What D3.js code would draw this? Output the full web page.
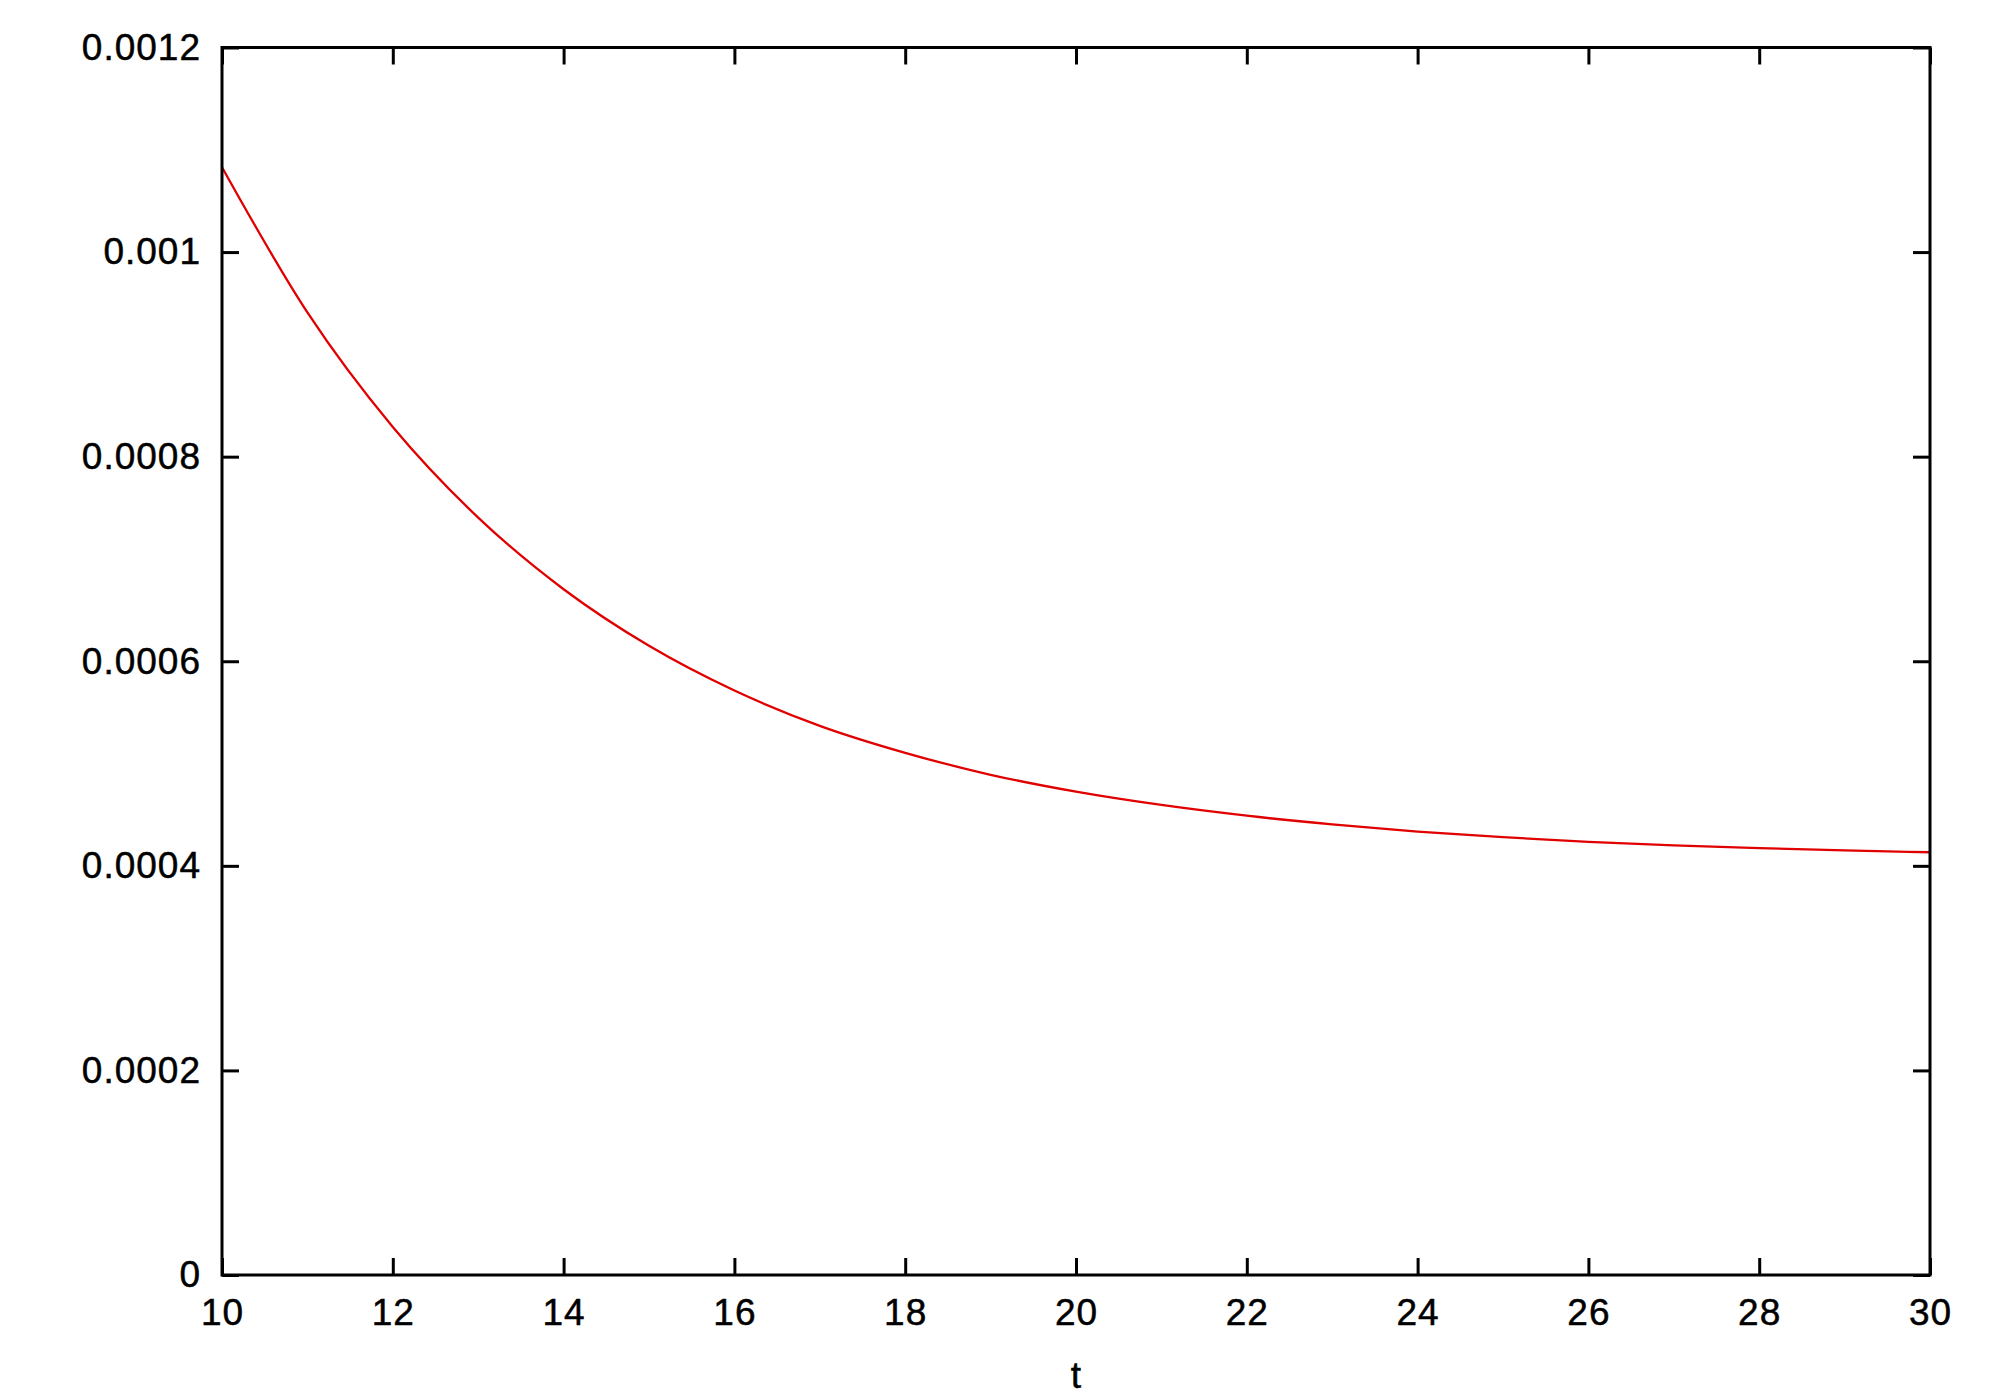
<!DOCTYPE html>
<html>
<head>
<meta charset="utf-8">
<script src="https://cdn.jsdelivr.net/npm/d3@7"></script>
<style>
  body { margin: 0; background: #fff; }
  text { font-family: "Liberation Sans", Arial, Helvetica, sans-serif; }
</style>
</head>
<body>
<div id="chart"></div>
<script>
// values
var tValues = [10, 11, 12, 13, 14, 15, 16, 17, 18, 19, 20, 21, 22, 23, 24, 25, 26, 27, 28, 29, 30];
var yValues = [0.001083, 0.000941, 0.000829, 0.0007404, 0.0006704, 0.0006151, 0.0005714, 0.0005369,
               0.0005105, 0.000489, 0.0004725, 0.0004595, 0.000449, 0.0004405, 0.0004335, 0.000428,
               0.0004235, 0.00042, 0.0004173, 0.0004151, 0.0004133];
var xTicks = [10, 12, 14, 16, 18, 20, 22, 24, 26, 28, 30];
var yTicks = [0, 0.0002, 0.0004, 0.0006, 0.0008, 0.001, 0.0012];
var yTickLabels = ["0", "0.0002", "0.0004", "0.0006", "0.0008", "0.001", "0.0012"];
var xLabel = "t";

var margin = {top: 47.5, right: 70, bottom: 125, left: 222},
    width = 2000 - margin.left - margin.right,
    height = 1400 - margin.top - margin.bottom;

var x = d3.scaleLinear().domain([10, 30]).range([0, width]);
var y = d3.scaleLinear().domain([0, 0.0012]).range([height, 0]);

var svg = d3.select("#chart").append("svg")
    .attr("width", 2000)
    .attr("height", 1400)
  .append("g")
    .attr("transform", "translate(" + margin.left + "," + margin.top + ")");

var data = tValues.map(function(t, i) { return {t: t, v: yValues[i]}; });

var tickLen = 17;

function styleLabels(g) {
  g.select(".domain").remove();
  g.selectAll("text")
    .attr("font-size", 37)
    .attr("letter-spacing", 1)
    .attr("fill", "#000")
    .attr("stroke", "#000")
    .attr("stroke-width", 0.5);
}

// bottom axis with labels
svg.append("g")
    .attr("transform", "translate(0," + height + ")")
    .call(d3.axisBottom(x).tickValues(xTicks).tickFormat(d3.format("d"))
      .tickSizeInner(-tickLen).tickSizeOuter(0).tickPadding(24))
    .call(styleLabels);

// top mirror ticks
svg.append("g")
    .call(d3.axisTop(x).tickValues(xTicks).tickFormat("")
      .tickSizeInner(-tickLen).tickSizeOuter(0))
    .call(function(g) { g.select(".domain").remove(); });

// left axis with labels
svg.append("g")
    .call(d3.axisLeft(y).tickValues(yTicks)
      .tickFormat(function(d, i) { return yTickLabels[i]; })
      .tickSizeInner(-tickLen).tickSizeOuter(0).tickPadding(21))
    .call(styleLabels);

// right mirror ticks
svg.append("g")
    .attr("transform", "translate(" + width + ",0)")
    .call(d3.axisRight(y).tickValues(yTicks).tickFormat("")
      .tickSizeInner(-tickLen).tickSizeOuter(0))
    .call(function(g) { g.select(".domain").remove(); });

svg.selectAll(".tick line").attr("stroke", "#000").attr("stroke-width", 3);

// the curve
var line = d3.line()
    .x(function(d) { return x(d.t); })
    .y(function(d) { return y(d.v); })
    .curve(d3.curveMonotoneX);

svg.append("path")
    .datum(data)
    .attr("fill", "none")
    .attr("stroke", "#e00000")
    .attr("stroke-width", 2.3)
    .attr("d", line);

// frame
svg.append("rect")
    .attr("x", 0).attr("y", 0)
    .attr("width", width).attr("height", height)
    .attr("fill", "none")
    .attr("stroke", "#000")
    .attr("stroke-width", 3);

// x label
svg.append("text")
    .attr("x", width / 2)
    .attr("y", height + 113)
    .attr("text-anchor", "middle")
    .attr("font-size", 37)
    .attr("stroke", "#000")
    .attr("stroke-width", 0.5)
    .text(xLabel);
</script>
</body>
</html>
